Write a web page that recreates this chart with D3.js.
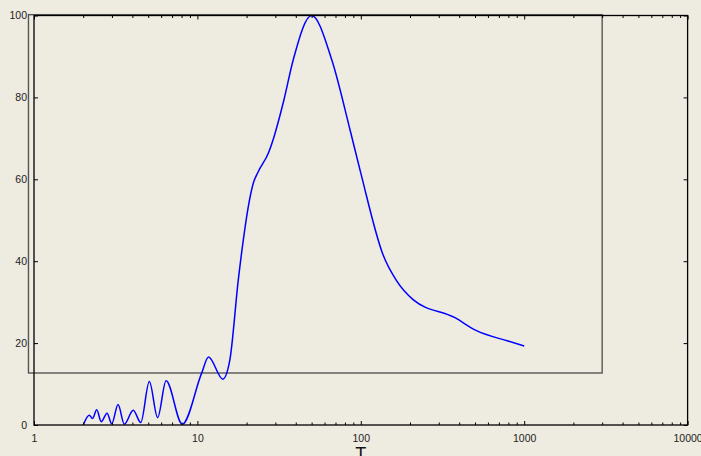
<!DOCTYPE html>
<html><head><meta charset="utf-8">
<script src="https://cdn.jsdelivr.net/npm/d3@7"></script>
<style>
html,body{margin:0;padding:0;background:#EEEBE0;}
svg{display:block;}
text{font-family:"Liberation Sans",Arial,sans-serif;}
</style></head>
<body>
<svg id="c" width="701" height="456"></svg>
<script>
const T = [2.0, 2.18, 2.28, 2.42, 2.58, 2.8, 2.99, 3.27, 3.57, 4.05, 4.5, 5.08, 5.71, 6.43, 8.08, 10.6, 11.7, 14.3, 15.8, 17.8, 19.1, 20.5, 22.0, 23.6, 27.2, 29.1, 30.3, 33.9, 38.6, 50, 66.4, 85.9, 100, 137, 165, 209, 377, 507, 796, 1000];
const V = [0, 2.4, 1.6, 3.7, 0.8, 2.9, 0.3, 5.0, 0.2, 3.6, 0.6, 10.6, 1.8, 10.8, 0.2, 12.6, 16.6, 11.2, 15.9, 35.5, 45.2, 53.4, 59.1, 61.9, 66.4, 69.7, 72.1, 79.5, 89.2, 100, 89.2, 72.1, 61.5, 41.5, 35.3, 30.6, 26.2, 23.1, 20.5, 19.3];
const xMajor = [1, 10, 100, 1000, 10000];
const yTicks = [0, 20, 40, 60, 80, 100];
const xLabel = "T";
// decorative zoom rectangle (data coords)
const boxX = [0.925, 3000];
const boxY = [12.7, 100.2];

const W = 701, H = 456;
const m = {left: 34, right: 13.4, top: 15.5, bottom: 31};
const svg = d3.select("#c");
const x = d3.scaleLog().domain([1, 10000]).range([m.left, W - m.right]);
const y = d3.scaleLinear().domain([0, 100]).range([H - m.bottom, m.top]);

const xMinor = [];
for (let d = 1; d < 10000; d *= 10) for (let k = 2; k <= 9; k++) xMinor.push(d * k);

const g = svg.append("g");

// gray box
g.append("rect")
  .attr("x", x(boxX[0])).attr("y", y(boxY[1]))
  .attr("width", x(boxX[1]) - x(boxX[0])).attr("height", y(boxY[0]) - y(boxY[1]))
  .attr("fill", "none").attr("stroke", "#555").attr("stroke-width", 1.4);

// curve
const line = d3.line().x((d, i) => x(T[i])).y((d, i) => y(V[i])).curve(d3.curveMonotoneX);
g.append("path").attr("d", line(V)).attr("fill", "none").attr("stroke", "#0000FF").attr("stroke-width", 1.5);

// frame
g.append("rect").attr("x", x(1)).attr("y", y(100)).attr("width", x(10000) - x(1)).attr("height", y(0) - y(100))
  .attr("fill", "none").attr("stroke", "#000").attr("stroke-width", 1.3);

function style(sel) {
  sel.select(".domain").remove();
  sel.selectAll("line").attr("stroke", "#000").attr("stroke-width", 1);
  sel.selectAll("text").attr("fill", "#222").style("font-size", "10.5px");
}
// bottom axis
g.append("g").attr("transform", `translate(0,${y(0)})`)
  .call(d3.axisBottom(x).tickValues(xMajor).tickSize(-4).tickPadding(10).tickFormat(d3.format("d"))).call(style);
g.append("g").attr("transform", `translate(0,${y(0)})`)
  .call(d3.axisBottom(x).tickValues(xMinor).tickSize(-2.5).tickFormat("")).call(style);
// top axis
g.append("g").attr("transform", `translate(0,${y(100)})`)
  .call(d3.axisTop(x).tickValues(xMajor).tickSize(-4).tickFormat("")).call(style);
g.append("g").attr("transform", `translate(0,${y(100)})`)
  .call(d3.axisTop(x).tickValues(xMinor).tickSize(-2.5).tickFormat("")).call(style);
// left axis
g.append("g").attr("transform", `translate(${x(1)},0)`)
  .call(d3.axisLeft(y).tickValues(yTicks).tickSize(-4).tickPadding(7).tickFormat(d3.format("d"))).call(style);
// right axis
g.append("g").attr("transform", `translate(${x(10000)},0)`)
  .call(d3.axisRight(y).tickValues(yTicks).tickSize(-4).tickFormat("")).call(style);

svg.append("text").attr("x", x(100)).attr("y", 460).attr("text-anchor", "middle")
  .style("font-size", "18px").attr("fill", "#111").text(xLabel);
</script>
</body></html>
